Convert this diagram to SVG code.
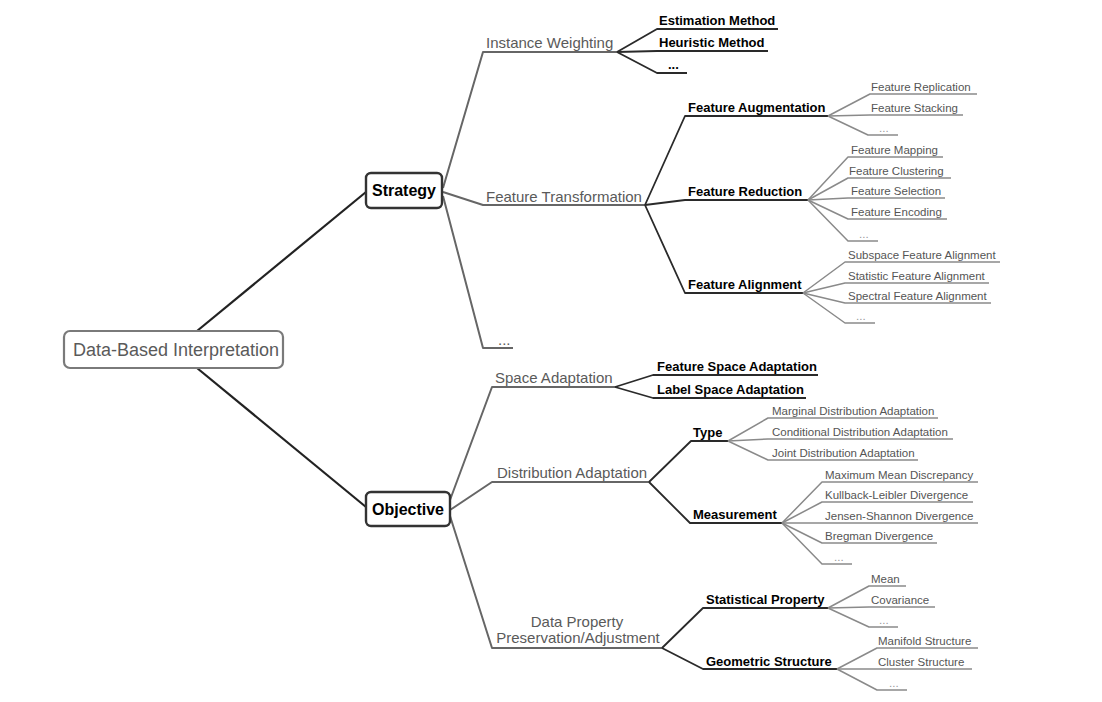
<svg xmlns="http://www.w3.org/2000/svg" width="1102" height="702" viewBox="0 0 1102 702">
<style>
text{font-family:"Liberation Sans",Arial,sans-serif}
.box{fill:#fff}
.root{stroke:#7a7a7a;stroke-width:2.2}
.main{stroke:#333;stroke-width:2.4}
.t0{font-size:18px;fill:#5a5a5a}
.t1{font-size:16px;font-weight:bold;fill:#000;text-anchor:middle}
.t2{font-size:15px;fill:#5a5a5a}
.t3{font-size:13px;font-weight:bold;fill:#000}
.t4{font-size:11.5px;fill:#555}
.t4d{font-size:11.5px;fill:#999}
path{fill:none;stroke-linejoin:round}
.c1{stroke:#222;stroke-width:2.2}
.c2{stroke:#666;stroke-width:2}
.c3{stroke:#2a2a2a;stroke-width:1.8}
.c4{stroke:#8a8a8a;stroke-width:1.5}
</style>
<rect width="1102" height="702" fill="#fff"/>
<g id="connectors">
<path class="c1" d="M197,331 L366,192"/>
<path class="c1" d="M197,368 L366,507"/>
<path class="c2" d="M443,188 L483,52 L617,52"/>
<path class="c2" d="M443,192 L483,205 L645,205"/>
<path class="c2" d="M443,196 L483,348 L513,348"/>
<path class="c3" d="M617,52 L657,29 L778,29"/>
<path class="c3" d="M617,52 L657,51 L768,51"/>
<path class="c3" d="M617,52 L657,73 L687,73"/>
<path class="c3" d="M645,205 L685,116 L828,116"/>
<path class="c3" d="M645,205 L685,200 L808,200"/>
<path class="c3" d="M645,205 L685,293 L803,293"/>
<path class="c4" d="M828,116 L870,94 L977,94"/>
<path class="c4" d="M828,116 L870,115 L963,115"/>
<path class="c4" d="M828,116 L868,135 L898,135"/>
<path class="c4" d="M808,200 L848,157 L943,157"/>
<path class="c4" d="M808,200 L848,178 L951,178"/>
<path class="c4" d="M808,200 L848,198 L945,198"/>
<path class="c4" d="M808,200 L848,219 L947,219"/>
<path class="c4" d="M808,200 L848,241 L878,241"/>
<path class="c4" d="M803,293 L845,262 L1000,262"/>
<path class="c4" d="M803,293 L845,283 L989,283"/>
<path class="c4" d="M803,293 L845,303 L991,303"/>
<path class="c4" d="M803,293 L845,323 L875,323"/>
<path class="c2" d="M450,500 L492,387 L615,387"/>
<path class="c2" d="M450,510 L492,482 L649,482"/>
<path class="c2" d="M450,516 L492,648 L662,648"/>
<path class="c3" d="M615,387 L653,375 L818,375"/>
<path class="c3" d="M615,387 L653,398 L806,398"/>
<path class="c3" d="M649,482 L691,441 L728,441"/>
<path class="c3" d="M649,482 L690,523 L782,523"/>
<path class="c4" d="M728,441 L768,418 L938,418"/>
<path class="c4" d="M728,441 L768,439 L953,439"/>
<path class="c4" d="M728,441 L768,460 L918,460"/>
<path class="c4" d="M782,523 L822,482 L978,482"/>
<path class="c4" d="M782,523 L822,502 L973,502"/>
<path class="c4" d="M782,523 L822,523 L978,523"/>
<path class="c4" d="M782,523 L822,543 L937,543"/>
<path class="c4" d="M782,523 L822,564 L852,564"/>
<path class="c3" d="M662,648 L703,608 L828,608"/>
<path class="c3" d="M662,648 L703,669 L837,669"/>
<path class="c4" d="M828,608 L869,586 L906,586"/>
<path class="c4" d="M828,608 L869,607 L935,607"/>
<path class="c4" d="M828,608 L869,627 L898,627"/>
<path class="c4" d="M837,669 L877,648 L978,648"/>
<path class="c4" d="M837,669 L877,669 L972,669"/>
<path class="c4" d="M837,669 L877,690 L907,690"/>
</g>
<g id="root"><rect class="box root" x="64" y="331" width="219" height="37" rx="6"/><text class="t0" x="73" y="356">Data-Based Interpretation</text></g>
<g id="strategy"><rect class="box main" x="366" y="173" width="76" height="35" rx="5"/><text class="t1" x="404" y="196">Strategy</text></g>
<g id="objective"><rect class="box main" x="366" y="492" width="84" height="34" rx="5"/><text class="t1" x="408" y="515">Objective</text></g>
<g id="instance-weighting"><text class="t2" x="486" y="48">Instance Weighting</text></g>
<g id="feature-transformation"><text class="t2" x="486" y="202">Feature Transformation</text></g>
<g id="strategy-more"><text class="t2" x="498" y="345">...</text></g>
<g id="estimation-method"><text class="t3" x="659" y="25">Estimation Method</text></g>
<g id="heuristic-method"><text class="t3" x="659" y="47">Heuristic Method</text></g>
<g id="iw-more"><text class="t3" x="668" y="69">...</text></g>
<g id="feature-augmentation"><text class="t3" x="688" y="112">Feature Augmentation</text></g>
<g id="feature-reduction"><text class="t3" x="688" y="196">Feature Reduction</text></g>
<g id="feature-alignment"><text class="t3" x="688" y="289">Feature Alignment</text></g>
<g id="feature-replication"><text class="t4" x="871" y="91">Feature Replication</text></g>
<g id="feature-stacking"><text class="t4" x="871" y="112">Feature Stacking</text></g>
<g id="fa-more"><text class="t4d" x="879" y="132">...</text></g>
<g id="feature-mapping"><text class="t4" x="851" y="154">Feature Mapping</text></g>
<g id="feature-clustering"><text class="t4" x="849" y="175">Feature Clustering</text></g>
<g id="feature-selection"><text class="t4" x="851" y="195">Feature Selection</text></g>
<g id="feature-encoding"><text class="t4" x="851" y="216">Feature Encoding</text></g>
<g id="fr-more"><text class="t4d" x="859" y="238">...</text></g>
<g id="subspace-feature-alignment"><text class="t4" x="848" y="259">Subspace Feature Alignment</text></g>
<g id="statistic-feature-alignment"><text class="t4" x="848" y="280">Statistic Feature Alignment</text></g>
<g id="spectral-feature-alignment"><text class="t4" x="848" y="300">Spectral Feature Alignment</text></g>
<g id="fal-more"><text class="t4d" x="856" y="320">...</text></g>
<g id="space-adaptation"><text class="t2" x="495" y="383">Space Adaptation</text></g>
<g id="distribution-adaptation"><text class="t2" x="497" y="478">Distribution Adaptation</text></g>
<g id="data-property"><text class="t2" x="577" y="627" text-anchor="middle">Data Property</text><text class="t2" x="578" y="643" text-anchor="middle">Preservation/Adjustment</text></g>
<g id="feature-space-adaptation"><text class="t3" x="657" y="371">Feature Space Adaptation</text></g>
<g id="label-space-adaptation"><text class="t3" x="657" y="394">Label Space Adaptation</text></g>
<g id="type"><text class="t3" x="693" y="437">Type</text></g>
<g id="measurement"><text class="t3" x="693" y="519">Measurement</text></g>
<g id="marginal"><text class="t4" x="772" y="415">Marginal Distribution Adaptation</text></g>
<g id="conditional"><text class="t4" x="772" y="436">Conditional Distribution Adaptation</text></g>
<g id="joint"><text class="t4" x="772" y="457">Joint Distribution Adaptation</text></g>
<g id="mmd"><text class="t4" x="825" y="479">Maximum Mean Discrepancy</text></g>
<g id="kl"><text class="t4" x="825" y="499">Kullback-Leibler Divergence</text></g>
<g id="js"><text class="t4" x="825" y="520">Jensen-Shannon Divergence</text></g>
<g id="bregman"><text class="t4" x="825" y="540">Bregman Divergence</text></g>
<g id="m-more"><text class="t4d" x="834" y="561">...</text></g>
<g id="statistical-property"><text class="t3" x="706" y="604">Statistical Property</text></g>
<g id="geometric-structure"><text class="t3" x="706" y="666">Geometric Structure</text></g>
<g id="mean"><text class="t4" x="871" y="583">Mean</text></g>
<g id="covariance"><text class="t4" x="871" y="604">Covariance</text></g>
<g id="sp-more"><text class="t4d" x="879" y="624">...</text></g>
<g id="manifold"><text class="t4" x="878" y="645">Manifold Structure</text></g>
<g id="cluster"><text class="t4" x="878" y="666">Cluster Structure</text></g>
<g id="gs-more"><text class="t4d" x="889" y="687">...</text></g>
</svg>
